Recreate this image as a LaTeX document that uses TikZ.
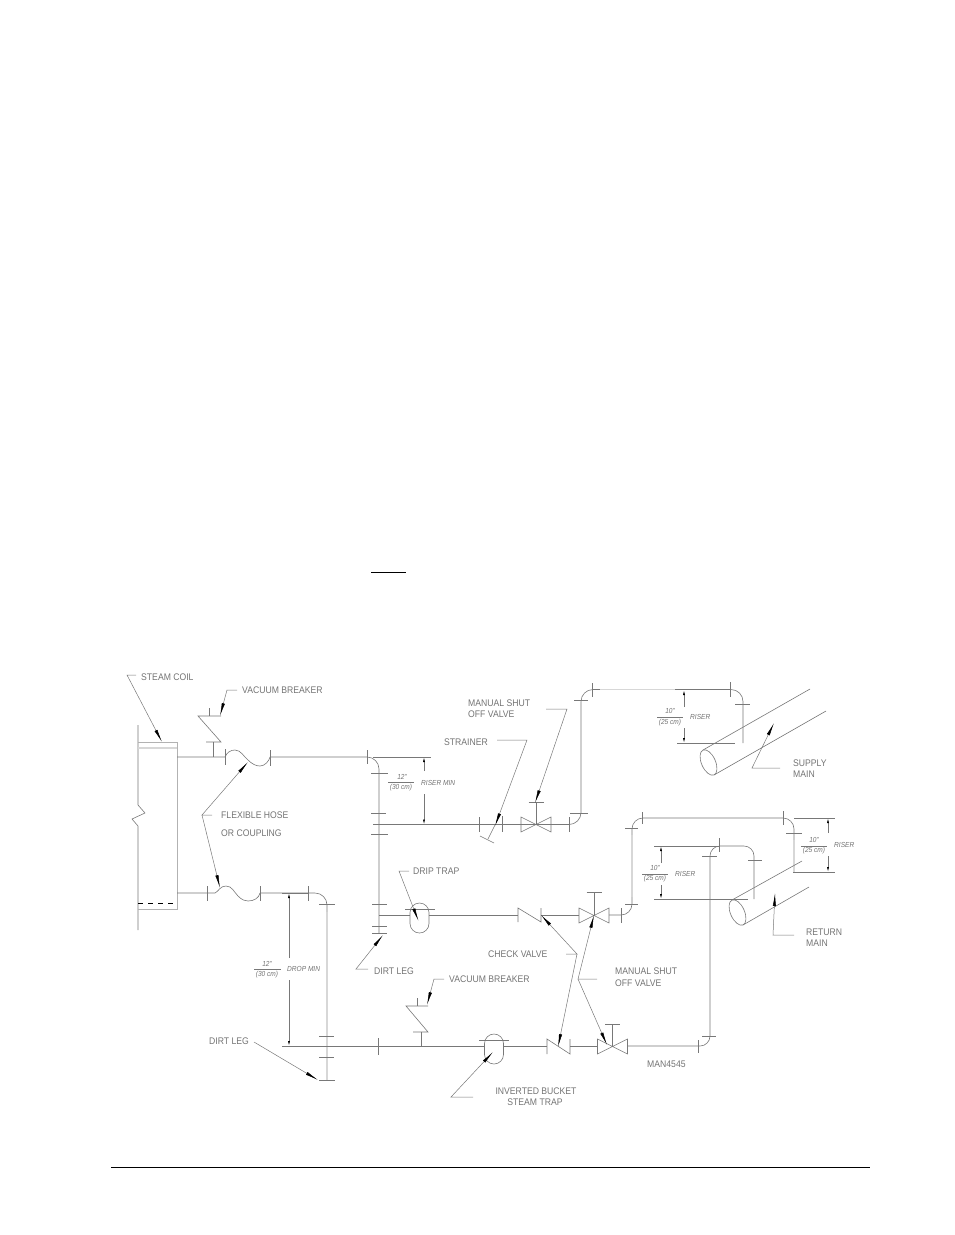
\documentclass[tikz,border=0pt]{standalone}
\usepackage{fontspec}
\setmainfont[FakeStretch=0.9]{Liberation Sans}
\usetikzlibrary{arrows.meta}
\definecolor{trait}{RGB}{120,120,120}
\definecolor{pale}{RGB}{215,215,215}
\tikzset{conduite/.style={draw=trait,line width=.6pt},
         clair/.style={draw=pale,line width=1.4pt},
         repere/.style={draw=trait,line width=.5pt,-{Latex[length=13pt,width=3.2pt,black]}},
         cote/.style={draw=trait,line width=.6pt,-{Latex[length=5pt,width=2pt,black]}},
         texte/.style={text=black!55,font=\fontsize{9.6}{10}\selectfont,anchor=west,inner sep=0pt},
         petit/.style={text=black!55,font=\fontsize{7.3}{8}\selectfont\itshape,inner sep=0pt}}
\begin{document}
\begin{tikzpicture}[x=1pt,y=-1pt]
\useasboundingbox (0,0) rectangle (954,1235);
\def\vanne{(-15,-7.5)--(15,7.5)--(15,-7.5)--(-15,7.5)--cycle}
\def\capsule{(-9.5,-5.5) arc(-180:0:9.5) -- (9.5,5.5) arc(0:180:9.5) -- cycle}
\draw[black,line width=.8pt](371,572)--(406,572);
\draw[black,line width=.6pt](111,1167.5)--(870,1167.5);
% serpentin
\draw[conduite](138,725)--(138,805)--(145,813)--(132,819)--(138,826)--(138,930);
\draw[draw=black!30,line width=.6pt](138,742)-|(177,909)--(138,909);
\draw[clair](138,748)--(177,748);
\draw[black,line width=.7pt,dash pattern=on 5pt off 5pt](138,903.5)--(177,903.5);
% conduite haute
\draw[conduite](177,757)--(225,757) .. controls (227,752) and (231,750) .. (235,750) .. controls (241,750) and (244,757) .. (248,760) .. controls (252,764) and (256,766) .. (260,766) .. controls (265,766) and (269,761) .. (270,757);
\draw[conduite,rounded corners=12pt](270,757)--(379,757)--(379,933);
\draw[conduite](379,824.5)--(569,824.5);
\draw[conduite,rounded corners=12pt](569,824.5)--(581,824.5)--(581,689.5)--(743,689.5)--(743,743);
\draw[clair](600,689.5)--(675,689.5);
\draw[conduite](495,825)--(488,839);
\draw[conduite](480,836)--(494,843);
% conduite basse
\draw[conduite](177,893)--(215,893) .. controls (219,891) and (220,886) .. (226,886) .. controls (232,886) and (234,892) .. (238,896) .. controls (242,900) and (245,901) .. (248,901) .. controls (254,901) and (259,898) .. (260,893);
\draw[conduite,rounded corners=12pt](260,893)--(327,893)--(327,1080);
\draw[clair](327,912)--(327,1080);
\draw[conduite](282,1046)--(485,1046);
% purgeur et retour
\draw[conduite](379,915)--(410,915);
\draw[conduite](429,915)--(518,915);
\draw[conduite](541,915)--(579,915);
\draw[conduite,rounded corners=11pt](609,915)--(632,915)--(632,818)--(794,818)--(794,872);
\draw[clair](632,835)--(632,897);
\draw[clair](794,840)--(794,872);
\draw[conduite](503,1046)--(547,1046);
\draw[conduite](570,1046)--(597,1046);
\draw[conduite,rounded corners=10pt](628,1046)--(710,1046)--(710,846)--(754,846)--(754,899);
\draw[conduite](654,846)--(719,846);
% brides verticales
\foreach \xb/\yh/\yb in {225/749/765,270/750/766,367/750/764,479/817/832,502/816/832,569/817/832,592/683/697,730/682/697,
  207/886/901,260/886/901,308/886/901,378/1038/1055,621/908/923,642/812/824,783/811/825,719/838/852,698/1040/1053}
  \draw[conduite](\xb,\yh)--(\xb,\yb);
% brides horizontales
\foreach \yb/\xg/\xd in {773/371/388,813/371/386,834/371/388,904/372/387,926/372/387,933/372/387,813/570/588,700/574/588,704/735/750,
  904/319/335,1036/319/334,1057/319/334,1080/319/335,904/625/638,828/625/638,833/786/802,856/702/717,860/748/762,1036/702/716,909/405/435,1040/479/509}
  \draw[conduite](\xg,\yb)--(\xd,\yb);
% vannes
\foreach \xv/\yv/\yt in {536/824.5/802,594/915.5/892,612.5/1046.5/1024}{
  \draw[conduite,shift={(\xv,\yv)}] \vanne;
  \draw[conduite](\xv,\yv)--(\xv,\yt);
  \draw[conduite](\xv-7.5,\yt)--(\xv+7.5,\yt);}
% clapets
\draw[conduite](518,922)--(518,908)--(541,922)--(541,908);
\draw[conduite](547,1054)--(547,1039)--(570,1054)--(570,1039);
% purgeurs
\draw[conduite,shift={(419.5,918)}] \capsule;
\draw[conduite,shift={(494,1049)}] \capsule;
% casse-vide
\draw[conduite](213,757)--(213,742);\draw[conduite](206,742)--(221,742)--(198,716)--(221,716);\draw[conduite](209,716)--(209,708);
\draw[conduite](421,1046)--(421,1032);\draw[conduite](413,1032)--(428,1032)--(406,1006)--(428,1006);\draw[conduite](417,1006)--(417,998);
% collecteurs
\draw[conduite](703,750)--(810,689);
\draw[conduite](714,775)--(826,711);
\draw[conduite](708.5,762.5) ellipse[x radius=13.6,y radius=7,rotate=-66];
\draw[conduite](732,900)--(802,861);
\draw[conduite](743,925)--(809,887);
\draw[conduite](737.5,912.5) ellipse[x radius=13.6,y radius=7,rotate=-66];
% lignes de cote
\draw[conduite](373,757)--(431,757);
\draw[conduite](373,824.5)--(431,824.5);
\draw[cote](424,771)--(424,757);\draw[cote](424,794)--(424,824.5);
\draw[conduite](677,743)--(735,743);
\draw[cote](684,707)--(684,690);\draw[cote](684,728)--(684,743);
\draw[conduite](794,818)--(835,818);
\draw[conduite](793,872)--(835,872);
\draw[cote](828,833)--(828,818);\draw[cote](828,856)--(828,872);
\draw[conduite](654,899)--(748,899);
\draw[cote](661,863)--(661,846);\draw[cote](661,885)--(661,899);
\draw[conduite](282,893)--(308,893);
\draw[cote](289,958)--(289,893);\draw[cote](289,980)--(289,1046);
% traits des fractions
\foreach \xg/\xd/\yf in {388/414/782,657/683/717,801/827/846,642/668/874,254/281/969}
  \draw[conduite](\xg,\yf)--(\xd,\yf);
% reperes
\draw[repere](136,675)--(127,675)--(162,742);
\draw[repere](237,690)--(227,690)--(220,716);
\draw[repere](212,815)--(202,815)--(248,762);
\draw[repere](202,815)--(220,888);
\draw[repere](497,740)--(527,740)--(495,826);
\draw[repere](546,709)--(567,709)--(535,803);
\draw[repere](780,768)--(752,768)--(774,723);
\draw[repere](794,935)--(773,935)--(775,893);
\draw[repere](409,871)--(399,871)--(418.5,921);
\draw[repere](368,969)--(356,969)--(383,935);
\draw[repere](254,1042)--(318,1080);
\draw[repere](444,979)--(434,979)--(427,1005);
\draw[repere](566,954)--(577,954)--(541,915);
\draw[repere](577,954)--(558,1047);
\draw[repere](597,979)--(578,979)--(594,915);
\draw[repere](578,979)--(607,1045);
\draw[repere](473,1097)--(451,1097)--(493,1052);
% textes
\node[texte](coil) at (141,677){STEAM COIL};
\node[texte](vacuumhaut) at (242,690){VACUUM BREAKER};
\node[texte](hose) at (221,815){FLEXIBLE HOSE};
\node[texte](coupling) at (221,833){OR COUPLING};
\node[texte](strainer) at (444,742){STRAINER};
\node[texte](manualhaut) at (468,703){MANUAL SHUT};
\node[texte](offhaut) at (468,714){OFF VALVE};
\node[texte](supply) at (793,763){SUPPLY};
\node[texte](supplymain) at (793,774){MAIN};
\node[texte](drip) at (413,871){DRIP TRAP};
\node[texte](dirtcentre) at (374,971){DIRT LEG};
\node[texte](dirtbas) at (209,1041){DIRT LEG};
\node[texte](returnm) at (806,932){RETURN};
\node[texte](returnmain) at (806,943){MAIN};
\node[texte](check) at (488,954){CHECK VALVE};
\node[texte](vacuumbas) at (449,979){VACUUM BREAKER};
\node[texte](manualbas) at (615,971){MANUAL SHUT};
\node[texte](offbas) at (615,983){OFF VALVE};
\node[texte](code) at (647,1064){MAN4545};
\node[texte,anchor=center](inverted) at (536,1091){INVERTED BUCKET};
\node[texte,anchor=center](trap) at (535,1102){STEAM TRAP};
% cotes
\node[petit](a) at (402,777){12"};
\node[petit](b) at (401,788){(30 cm)};
\node[petit,anchor=west](c) at (421,783){RISER MIN};
\node[petit](d) at (670,711){10"};
\node[petit](e) at (670,723){(25 cm)};
\node[petit,anchor=west](f) at (690,717){RISER};
\node[petit](g) at (814,840){10"};
\node[petit](h) at (814,851){(25 cm)};
\node[petit,anchor=west](i) at (834,845){RISER};
\node[petit](j) at (655,868){10"};
\node[petit](k) at (655,879){(25 cm)};
\node[petit,anchor=west](l) at (675,874){RISER};
\node[petit](m) at (267,964){12"};
\node[petit](n) at (267,975){(30 cm)};
\node[petit,anchor=west](o) at (287,969){DROP MIN};
\end{tikzpicture}
\end{document}
